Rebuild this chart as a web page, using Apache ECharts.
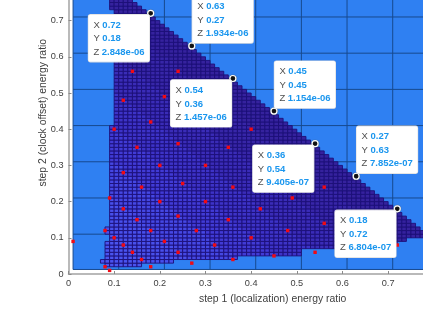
<!DOCTYPE html>
<html><head><meta charset="utf-8">
<style>html,body{margin:0;padding:0;background:#fff}#c{width:423px;height:318px}</style>
<script src="https://cdn.jsdelivr.net/npm/echarts@6/dist/echarts.min.js"></script>
</head><body><div id="c"></div>
<script>
// Tick values and labels
const xTicks = [0, 0.1, 0.2, 0.3, 0.4, 0.5, 0.6, 0.7, 0.8];
const yTicks = [0, 0.1, 0.2, 0.3, 0.4, 0.5, 0.6, 0.7, 0.8];
const xName = 'step 1 (localization) energy ratio';
const yName = 'step 2 (clock offset) energy ratio';

// Coarse mesh outside the feasible region
const meshXs = [0.01, 0.11, 0.21, 0.31, 0.41, 0.51, 0.61, 0.71];
const meshYs = [0.0125, 0.11, 0.21, 0.31, 0.41, 0.51, 0.61, 0.71];

// Fine mesh: per row (lower edge = rowY) first and last x
const rowY = [0.02,0.03,0.04,0.05,0.06,0.07,0.08,0.09,0.10,0.11,0.12,0.13,0.14,0.15,0.16,0.17,0.18,0.19,0.20,0.21,0.22,0.23,0.24,0.25,0.26,0.27,0.28,0.29,0.30,0.31,0.32,0.33,0.34,0.35,0.36,0.37,0.38,0.39,0.40,0.41,0.42,0.43,0.44,0.45,0.46,0.47,0.48,0.49,0.50,0.51,0.52,0.53,0.54,0.55,0.56,0.57,0.58,0.59,0.60,0.61,0.62,0.63,0.64,0.65,0.66,0.67,0.68,0.69,0.70,0.71,0.72,0.73,0.74,0.75];
const rowStart = [0.08,0.07,0.08,0.08,0.08,0.08,0.08,0.09,0.09,0.08,0.08,0.09,0.09,0.09,0.09,0.09,0.09,0.09,0.09,0.09,0.09,0.09,0.09,0.09,0.09,0.09,0.09,0.09,0.09,0.09,0.09,0.09,0.09,0.09,0.09,0.09,0.09,0.09,0.09,0.10,0.10,0.10,0.10,0.10,0.10,0.10,0.10,0.10,0.10,0.10,0.10,0.10,0.10,0.10,0.10,0.10,0.10,0.10,0.10,0.10,0.10,0.10,0.10,0.10,0.10,0.10,0.10,0.10,0.10,0.10,0.10,0.09,0.09,0.09];
const rowEnd = [0.16,0.23,0.37,0.51,0.51,0.61,0.72,0.74,0.79,0.78,0.77,0.76,0.75,0.74,0.73,0.72,0.71,0.70,0.69,0.68,0.67,0.66,0.65,0.64,0.63,0.62,0.61,0.60,0.59,0.58,0.57,0.56,0.55,0.54,0.53,0.52,0.51,0.50,0.49,0.48,0.47,0.46,0.45,0.44,0.43,0.42,0.41,0.40,0.39,0.38,0.37,0.36,0.35,0.34,0.33,0.32,0.31,0.30,0.29,0.28,0.27,0.26,0.25,0.24,0.23,0.22,0.21,0.20,0.19,0.18,0.17,0.16,0.15,0.14];
// Cell colour per 0.1 band of (x + y)
const sumBandColors = ['#4a5af2','#4a54f0','#4850ec','#4548e4','#413bd6','#3d33c8','#3a2cb8','#3726a8','#35229e','#331f96'];

// Measured sample points (red)
const pointX = [0.14,0.24,0.12,0.21,0.18,0.10,0.40,0.24,0.15,0.35,0.20,0.30,0.12,0.16,0.25,0.36,0.56,0.09,0.20,0.30,0.12,0.42,0.49,0.24,0.15,0.35,0.56,0.08,0.18,0.28,0.48,0.10,0.40,0.21,0.01,0.12,0.32,0.72,0.14,0.24,0.54,0.45,0.16,0.36,0.27,0.08,0.18,0.09];
const pointY = [0.56,0.56,0.48,0.49,0.42,0.40,0.40,0.36,0.35,0.35,0.30,0.30,0.28,0.24,0.25,0.24,0.24,0.21,0.20,0.20,0.18,0.18,0.21,0.16,0.15,0.15,0.14,0.12,0.12,0.12,0.12,0.10,0.10,0.09,0.09,0.08,0.08,0.08,0.06,0.06,0.06,0.05,0.04,0.04,0.03,0.02,0.02,0.01];

// Data tips
const tipPosX = [0.18,0.27,0.36,0.45,0.54,0.63,0.72];
const tipPosY = [0.72,0.63,0.54,0.45,0.36,0.27,0.18];
const tipX = ['0.72','0.63','0.54','0.45','0.36','0.27','0.18'];
const tipY = ['0.18','0.27','0.36','0.45','0.54','0.63','0.72'];
const tipZ = ['2.848e-06','1.934e-06','1.457e-06','1.154e-06','9.405e-07','7.852e-07','6.804e-07'];
const tipSide = ['below-left','above-right','below-left','above-right','below-left','above-right','below-left'];

const cells = [];
rowY.forEach((y, i) => {
  const n = Math.round((rowEnd[i] - rowStart[i]) * 100);
  for (let k = 0; k < n; k++) {
    const x = (Math.round(rowStart[i] * 100) + k) / 100;
    cells.push([x, y, Math.min(sumBandColors.length - 1, Math.floor((x + y) * 10))]);
  }
});
const meshLines = [];
meshXs.forEach(x => meshLines.push([x, 0.0125, x, 0.8]));
meshYs.forEach(y => meshLines.push([0.01, y, 0.8, y]));

const chart = echarts.init(document.getElementById('c'), null, {renderer: 'canvas'});
const FONT = '"Liberation Sans", Arial, sans-serif';
chart.setOption({
  animation: false,
  backgroundColor: '#fff',
  grid: {left: 68.5, top: -15.6, right: -10.8, bottom: 44, containLabel: false, outerBoundsMode: 'none'},
  xAxis: {
    type: 'value', min: xTicks[0], max: xTicks[xTicks.length - 1], interval: 0.1,
    name: xName, nameLocation: 'middle', nameGap: 20.5, nameMoveOverlap: false,
    nameTextStyle: {color: '#404040', fontSize: 10.4, fontFamily: FONT, padding: [0, 0, 0, 43]},
    axisLine: {show: true, onZero: false, lineStyle: {color: '#a3a3a3', width: 1.5}},
    axisTick: {show: true, inside: true, length: 3, lineStyle: {color: '#8a8a8a'}},
    axisLabel: {color: '#404040', fontSize: 9.2, fontFamily: FONT, margin: 5, formatter: v => String(+v.toFixed(1))},
    splitLine: {show: false}
  },
  yAxis: {
    type: 'value', min: yTicks[0], max: yTicks[yTicks.length - 1], interval: 0.1,
    name: yName, nameLocation: 'middle', nameGap: 20.5, nameMoveOverlap: false,
    nameTextStyle: {color: '#404040', fontSize: 10.4, fontFamily: FONT, padding: [0, 0, 0, 33]},
    axisLine: {show: true, onZero: false, lineStyle: {color: '#a3a3a3', width: 1.5}},
    axisTick: {show: true, inside: true, length: 3, lineStyle: {color: '#8a8a8a'}},
    axisLabel: {color: '#404040', fontSize: 9.2, fontFamily: FONT, margin: 5, formatter: v => String(+v.toFixed(1))},
    splitLine: {show: false}
  },
  series: [
    {
      type: 'custom', name: 'field', coordinateSystem: 'cartesian2d', z: 1, silent: true, clip: true,
      data: [[meshXs[0], meshYs[0], 0.8, 0.8]],
      encode: {x: [0, 2], y: [1, 3]},
      renderItem: (p, api) => {
        const a = api.coord([api.value(0), api.value(3)]);
        const b = api.coord([api.value(2), api.value(1)]);
        return {type: 'rect', shape: {x: a[0], y: a[1], width: b[0] - a[0], height: b[1] - a[1]}, style: {fill: '#2f80f2'}};
      }
    },
    {
      type: 'custom', name: 'coarse mesh', coordinateSystem: 'cartesian2d', z: 2, silent: true, clip: true,
      data: meshLines,
      encode: {x: [0, 2], y: [1, 3]},
      renderItem: (p, api) => {
        const a = api.coord([api.value(0), api.value(1)]);
        const b = api.coord([api.value(2), api.value(3)]);
        return {type: 'line', shape: {x1: a[0], y1: a[1], x2: b[0], y2: b[1]}, style: {stroke: '#17498f', lineWidth: 1}};
      }
    },
    {
      type: 'custom', name: 'surface', coordinateSystem: 'cartesian2d', z: 3, silent: true, clip: true,
      data: cells,
      encode: {x: 0, y: 1},
      renderItem: (p, api) => {
        const x = api.value(0), y = api.value(1);
        const a = api.coord([x, y + 0.01]);
        const b = api.coord([x + 0.01, y]);
        return {type: 'rect', shape: {x: a[0], y: a[1], width: b[0] - a[0], height: b[1] - a[1]},
          style: {fill: sumBandColors[api.value(2)], stroke: 'rgba(29,16,120,0.9)', lineWidth: 1}};
      }
    },
    {
      type: 'scatter', name: 'samples', z: 4, silent: true, symbol: 'rect', symbolSize: 3.4,
      itemStyle: {color: '#f00a14', opacity: 1}, clip: false,
      data: pointX.map((x, i) => [x, pointY[i]])
    },
    {
      type: 'scatter', name: 'tips', z: 5, silent: true, symbol: 'circle', symbolSize: 6,
      itemStyle: {color: '#111', opacity: 1, borderColor: '#fff', borderWidth: 1.2, shadowBlur: 1, shadowColor: '#555'},
      data: tipPosX.map((x, i) => ({
        value: [x, tipPosY[i]],
        label: {position: tipSide[i] === 'below-left' ? [-58.7, 4.9] : [4, -46.5]}
      })),
      label: {
        show: true, width: 52, padding: [4, 4, 3, 5], align: 'left', verticalAlign: 'top', opacity: 1,
        backgroundColor: '#fff', borderColor: '#dcdcdc', borderWidth: 0.6, borderRadius: 2,
        fontFamily: FONT, fontSize: 9.5,
        formatter: o => {
          const i = o.dataIndex;
          return `{k|X} {v|${tipX[i]}}\n{k|Y} {v|${tipY[i]}}\n{k|Z} {v|${tipZ[i]}}`;
        },
        rich: {
          k: {color: '#505050', fontSize: 9.5, lineHeight: 13.4, fontFamily: FONT},
          v: {color: '#1a96ee', fontSize: 9.5, fontWeight: 'bold', lineHeight: 13.4, fontFamily: FONT}
        }
      }
    }
  ]
});
</script></body></html>
